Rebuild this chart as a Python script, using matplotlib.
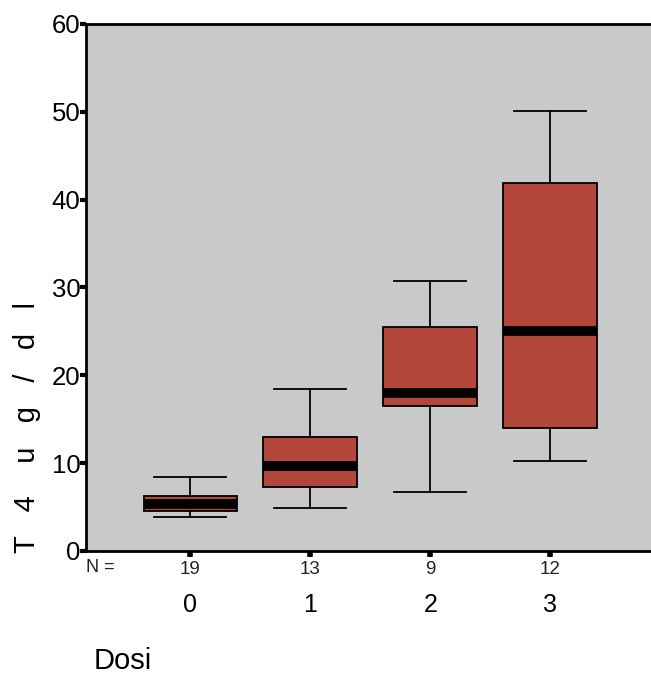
import matplotlib
matplotlib.use('Agg')
import matplotlib.pyplot as plt

# values
doses = ['0', '1', '2', '3']
counts = [19, 13, 9, 12]
whisker_low = [3.9, 4.9, 6.7, 10.2]
q1 = [4.6, 7.3, 16.5, 14.0]
medians = [5.3, 9.7, 18.0, 25.0]
q3 = [6.3, 13.0, 25.5, 41.9]
whisker_high = [8.4, 18.4, 30.7, 50.1]

plt.rcParams['font.family'] = ['Liberation Sans', 'DejaVu Sans']

fig = plt.figure(figsize=(6.51, 6.81), dpi=100)
ax = fig.add_axes([0.132, 0.191, 0.868, 0.774])
ax.set_facecolor('#c9c9c9')

stats = []
for i in range(len(doses)):
    stats.append({'whislo': whisker_low[i], 'q1': q1[i], 'med': medians[i],
                  'q3': q3[i], 'whishi': whisker_high[i], 'fliers': []})

ax.bxp(stats, positions=range(len(doses)), widths=0.78, patch_artist=True,
       showfliers=False,
       boxprops=dict(facecolor='#b2463a', edgecolor='black', linewidth=1.3),
       medianprops=dict(color='black', linewidth=7, solid_capstyle='butt'),
       whiskerprops=dict(color='black', linewidth=1.3),
       capprops=dict(color='black', linewidth=1.3),
       capwidths=0.6)

ax.set_xlim(-0.87, 3.84)
ax.set_ylim(0, 60)
ax.set_yticks([0, 10, 20, 30, 40, 50, 60])
ax.tick_params(axis='y', labelsize=18.5, length=4, width=3, pad=0)
ax.set_xticks(range(len(doses)))
ax.set_xticklabels([str(c) for c in counts], fontsize=13.5, color='#222222')
ax.tick_params(axis='x', length=4, width=4, pad=3)

for s in ['top', 'left', 'bottom']:
    ax.spines[s].set_linewidth(2)
ax.spines['right'].set_visible(False)

# dose labels under the counts
for i, d in enumerate(doses):
    ax.text(i, -6.2, d, ha='center', va='center', fontsize=18, clip_on=False)
ax.text(-0.87, -1.9, 'N =', ha='left', va='center', fontsize=13, color='#222222', clip_on=False)

fig.text(0.042, 0.372, 'T   4    u   g   /   d   l', rotation=90, ha='center', va='center', fontsize=21)
fig.text(0.144, 0.03, 'Dosi', ha='left', va='center', fontsize=21)

fig.savefig('out.png', dpi=100)
